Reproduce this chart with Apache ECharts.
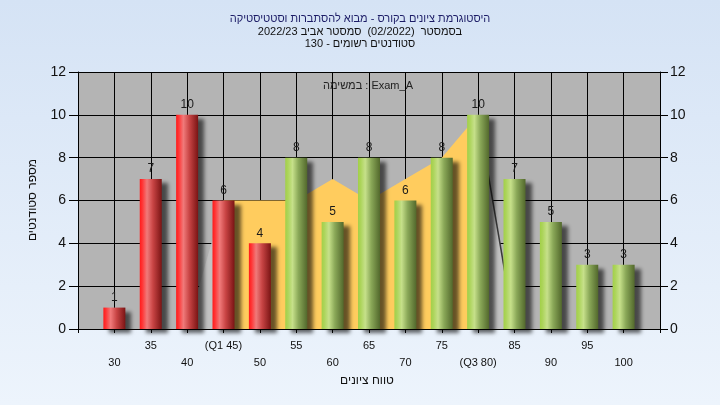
<!DOCTYPE html>
<html>
<head>
<meta charset="utf-8">
<script src="https://cdn.jsdelivr.net/npm/echarts@6/dist/echarts.min.js"></script>
<style>
html,body{margin:0;padding:0;}
#chart{width:720px;height:405px;}
</style>
</head>
<body>
<div id="chart"></div>
<script>
// ---- data ----
const categories = [30, 35, 40, 45, 50, 55, 60, 65, 70, 75, 80, 85, 90, 95, 100];
const counts     = [1, 7, 10, 6, 4, 8, 5, 8, 6, 8, 10, 7, 5, 3, 3];
const tickLabels = ['30', '35', '40', '(Q1 45)', '50', '55', '60', '65', '70', '75', '(Q3 80)', '85', '90', '95', '100'];
const bandX      = [40, 45, 50, 55, 60, 65, 70, 75, 80, 85];
const bandValues = [0, 6, 6, 6, 7, 6, 7, 8, 10, 0];
const q1 = 45, q3 = 80, passMark = 55;
const titleLines = [
  'היסטוגרמת ציונים בקורס - מבוא להסתברות וסטטיסטיקה',
  'בסמסטר  (02/2022)  סמסטר אביב 2022/23',
  'סטודנטים רשומים - 130'
];
const legendText = 'במשימה : Exam_A';
const xName = 'טווח ציונים';
const yName = 'מספר סטודנטים';

const FONT = '"Liberation Sans", "DejaVu Sans", Arial, sans-serif';

const redGrad = new echarts.graphic.LinearGradient(0, 0, 1, 0, [
  {offset: 0, color: '#ff1a1a'},
  {offset: 0.12, color: '#ff3636'},
  {offset: 0.33, color: '#f07a7a'},
  {offset: 0.6, color: '#c84444'},
  {offset: 1, color: '#7a1414'}
]);
const greenGrad = new echarts.graphic.LinearGradient(0, 0, 1, 0, [
  {offset: 0, color: '#a2d048'},
  {offset: 0.12, color: '#acd45a'},
  {offset: 0.33, color: '#c6e08a'},
  {offset: 0.6, color: '#8aa858'},
  {offset: 1, color: '#52682c'}
]);

const pts = bandX.map((x, i) => [x, bandValues[i]]);
const iq1 = bandX.indexOf(q1), iq3 = bandX.indexOf(q3);
const leftWedge = pts.slice(0, iq1 + 1);
const midBand = pts.slice(iq1, iq3 + 1);
const rightWedge = pts.slice(iq3);

const chart = echarts.init(document.getElementById('chart'), null, {renderer: 'canvas'});

const titleTops = [7, 20, 32];
const option = {
  animation: false,
  backgroundColor: new echarts.graphic.LinearGradient(0, 0, 0, 1, [
    {offset: 0, color: '#d5e3f5'},
    {offset: 1, color: '#edf4fc'}
  ]),
  textStyle: {fontFamily: FONT},
  title: titleLines.map((t, i) => ({
    text: t, left: 'center', top: titleTops[i],
    textStyle: {fontSize: 11, fontWeight: 'normal', color: i === 0 ? '#1c1c66' : '#111', fontFamily: FONT, lineHeight: 13}
  })),
  grid: {left: 78, right: 60, top: 72, bottom: 76, show: true, backgroundColor: '#b4b4b4', borderWidth: 0},
  xAxis: {
    type: 'value', min: 25, max: 105, interval: 5,
    axisLine: {show: true, onZero: false, lineStyle: {color: '#000', width: 1}},
    axisTick: {show: true, length: 4, lineStyle: {color: '#000'}},
    splitLine: {show: true, lineStyle: {color: '#000', width: 1}},
    axisLabel: {
      margin: 8, fontSize: 11, color: '#111', lineHeight: 17, fontFamily: FONT,
      formatter: function (v) {
        const idx = categories.indexOf(v);
        if (idx < 0) return '';
        return idx % 2 === 1 ? tickLabels[idx] : '\n' + tickLabels[idx];
      }
    }
  },
  yAxis: [
    {
      type: 'value', min: 0, max: 12, interval: 2, position: 'left',
      axisLine: {show: true, lineStyle: {color: '#000'}},
      axisTick: {show: true, length: 9, lineStyle: {color: '#000'}},
      splitLine: {show: true, lineStyle: {color: '#000', width: 1}},
      axisLabel: {margin: 12, fontSize: 14, color: '#111', fontFamily: FONT}
    },
    {
      type: 'value', min: 0, max: 12, interval: 2, position: 'right',
      axisLine: {show: true, lineStyle: {color: '#000'}},
      axisTick: {show: true, length: 8, lineStyle: {color: '#000'}},
      splitLine: {show: false},
      axisLabel: {margin: 10, fontSize: 14, color: '#111', fontFamily: FONT}
    }
  ],
  graphic: [
    {type: 'text', x: 368, y: 86, style: {text: legendText, font: '11px ' + FONT, fill: '#222', textAlign: 'center', textVerticalAlign: 'middle'}, z: 50},
    {type: 'text', x: 367, y: 381, style: {text: xName, font: '12px ' + FONT, fill: '#111', textAlign: 'center', textVerticalAlign: 'middle'}},
    {type: 'text', x: 33, y: 200, rotation: Math.PI / 2, style: {text: yName, font: '12px ' + FONT, fill: '#111', textAlign: 'center', textVerticalAlign: 'middle'}}
  ],
  series: [
    {
      type: 'line', data: leftWedge, symbol: 'none', z: 1,
      lineStyle: {width: 0}, areaStyle: {color: '#c2c2c2', opacity: 1}
    },
    {
      type: 'line', data: midBand, symbol: 'none', z: 1,
      lineStyle: {width: 0}, areaStyle: {color: '#ffcc5e', opacity: 1}
    },
    {
      type: 'line', data: rightWedge, symbol: 'none', z: 1,
      lineStyle: {width: 1.5, color: '#3a3a3a'}, areaStyle: {color: '#c2c2c2', opacity: 1}
    },
    {
      type: 'bar', barWidth: 22, z: 3,
      data: categories.map((c, i) => ({
        value: [c, counts[i]],
        itemStyle: {color: c < passMark ? redGrad : greenGrad}
      })),
      itemStyle: {shadowBlur: 4, shadowColor: 'rgba(0,0,0,0.6)', shadowOffsetX: 6, shadowOffsetY: 4},
      label: {show: true, position: 'top', distance: 4, fontSize: 12, color: '#1a1a1a', fontFamily: FONT,
        formatter: p => String(p.value[1])}
    }
  ]
};
chart.setOption(option);
</script>
</body>
</html>
